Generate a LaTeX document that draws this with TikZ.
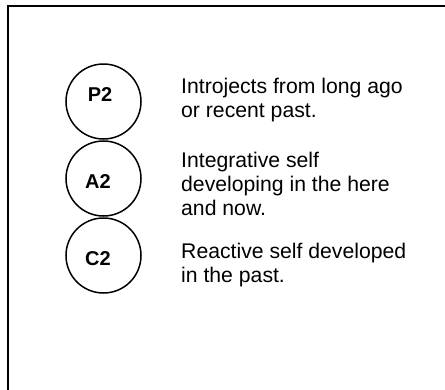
\documentclass[tikz,border=0pt]{standalone}
\usepackage{fontspec}
\setmainfont{Liberation Sans}
\begin{document}
\begin{tikzpicture}[x=1pt,y=-1pt,
  ring/.style={draw,line width=1.5pt,circle,minimum size=75pt,inner sep=0pt},
  tag/.style={font=\fontsize{20}{24}\selectfont\bfseries,inner sep=0pt},
  desc/.style={font=\fontsize{21.2}{24}\selectfont,align=left,anchor=base west,inner sep=0pt}]
\useasboundingbox (0,0) rectangle (445,389);
\clip (0,0) rectangle (445,389);
\draw[line width=2pt] (7.5,400) -- (7.5,6) -- (460,6);
\node[ring] (P) at (103.5,101.5) {};
\node[ring] (A) at (103.5,178.5) {};
\node[ring] (C) at (103.5,255.5) {};
\node[tag] (Pl) at (100,95) {P2};
\node[tag] (Al) at (98,182) {A2};
\node[tag] (Cl) at (98,259) {C2};
\node[desc] (Pt) at (181,117) {Introjects from long ago\\or recent past.};
\node[desc] (At) at (181,215) {Integrative self\\developing in the here\\and now.};
\node[desc] (Ct) at (181,282) {Reactive self developed\\in the past.};
\end{tikzpicture}
\end{document}
